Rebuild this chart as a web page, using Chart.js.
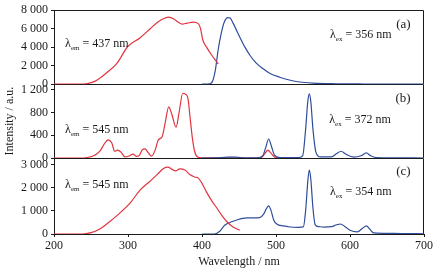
<!DOCTYPE html>
<html>
<head>
<meta charset="utf-8">
<script src="https://cdn.jsdelivr.net/npm/chart.js@4.4.1/dist/chart.umd.min.js"></script>
<style>
    body { margin: 0; background: #fff; }
    #spectra { display: block; }
</style>
</head>
<body>
<canvas id="spectra" width="447" height="273"></canvas>
<script>
/* emission / excitation spectra, three panels */

// panel (a) - excitation (lambda em = 437 nm)
const exAWave = [200, 235, 245, 255, 262, 270, 285, 300, 316, 330, 340, 350, 355, 362, 368, 373, 380, 388, 395, 398, 401, 407, 413, 418, 422];
const exAInt  = [0, 0, 60, 300, 650, 1150, 2250, 4100, 5000, 6000, 6700, 7150, 7250, 7050, 6700, 6500, 6600, 6700, 6550, 6000, 4800, 3900, 3150, 2600, 2200];
// panel (a) - emission (lambda ex = 356 nm)
const emAWave = [400, 408, 413, 418, 422, 426, 430, 435, 438, 442, 451, 458, 465, 473, 482, 492, 505, 518, 532, 550, 580, 620, 700];
const emAInt  = [0, 0, 150, 1500, 3800, 5500, 6700, 7200, 7150, 6600, 5100, 4000, 3100, 2300, 1700, 1150, 750, 450, 230, 110, 40, 15, 0];

// panel (b) - excitation (lambda em = 545 nm)
const exBWave = [200, 235, 245, 255, 262, 268, 273, 278, 282, 286, 290, 296, 302, 307, 311, 315, 319, 323, 327, 332, 337, 341, 346, 350, 355, 359, 365, 369, 374, 378, 381, 384, 387, 390, 394, 400, 420, 460, 480, 485, 489, 493, 498, 505, 525];
const exBInt  = [0, 0, 10, 50, 120, 250, 320, 270, 120, 140, 110, 20, 40, 70, 30, 40, 140, 160, 100, 35, 150, 320, 370, 600, 900, 780, 545, 800, 1140, 1120, 1050, 700, 350, 120, 20, 5, 5, 0, 10, 80, 140, 90, 20, 5, 0];
// panel (b) - emission (lambda ex = 372 nm)
const emBWave = [400, 420, 435, 445, 460, 475, 482, 486, 490, 494, 498, 505, 530, 536, 540, 543, 545, 547, 550, 554, 560, 575, 582, 588, 594, 605, 615, 622, 628, 635, 660, 700];
const emBInt  = [0, 5, 15, 15, 5, 5, 40, 180, 335, 200, 50, 10, 10, 40, 500, 1000, 1130, 1000, 500, 100, 20, 20, 80, 120, 70, 15, 40, 90, 40, 10, 5, 0];

// panel (c) - excitation (lambda em = 545 nm)
const exCWave = [200, 238, 250, 262, 273, 285, 303, 316, 330, 340, 348, 354, 359, 364, 370, 377, 384, 390, 395, 400, 406, 413, 420, 427, 434, 442, 451];
const exCInt  = [0, 0, 60, 220, 480, 800, 1350, 1900, 2300, 2600, 2850, 2910, 2820, 2740, 2830, 2780, 2570, 2480, 2430, 2200, 1830, 1450, 1130, 800, 520, 300, 170];
// panel (c) - emission (lambda ex = 354 nm)
const emCWave = [400, 417, 424, 431, 440, 447, 455, 461, 470, 478, 483, 487, 490, 493, 497, 501, 510, 519, 530, 537, 540, 543, 545, 547, 550, 553, 558, 565, 575, 582, 587, 593, 600, 610, 617, 622, 627, 632, 645, 670, 700];
const emCInt  = [0, 0, 120, 390, 530, 610, 680, 700, 700, 710, 850, 1100, 1220, 1050, 600, 435, 350, 305, 290, 310, 1000, 2300, 2780, 2400, 1100, 400, 320, 300, 320, 400, 435, 330, 160, 90, 250, 350, 200, 50, 30, 20, 10];

// tick values
const xTicks = [200, 300, 400, 500, 600, 700];
const aTicks = [0, 2000, 4000, 6000, 8000];
const bTicks = [0, 400, 800, 1200];
const cTicks = [0, 1000, 2000, 3000];

// labels: [panel, symbol, sub, rest, wavelength, intensity]
const labelTexts = [
    ["ya", "\u03bb", "em", " = 437 nm", 215, 4320],
    ["ya", "\u03bb", "ex", " = 356 nm", 573, 5300],
    ["yb", "\u03bb", "em", " = 545 nm", 215, 492],
    ["yb", "\u03bb", "ex", " = 372 nm", 572, 668],
    ["yc", "\u03bb", "em", " = 545 nm", 215, 2128],
    ["yc", "\u03bb", "ex", " = 354 nm", 573, 1824]
];
const panelTags = [["ya", "(a)", 6490], ["yb", "(b)", 1054], ["yc", "(c)", 2692]];

const RED = "#e0343f";
const BLUE = "#2f4d9b";
const INK = "#1a1a1a";
const SERIF = "'Liberation Serif', 'DejaVu Serif', serif";

document.addEventListener("DOMContentLoaded", () => {
    initSpectraChart();
});

function toPoints(wave, intensity) {
    return wave.map((w, i) => ({ x: w, y: intensity[i] }));
}

function formatThousands(value) {
    return value.toString().replace(/\B(?=(\d{3})+(?!\d))/g, " ");
}

function makeLine(wave, intensity, color, axis) {
    return {
        data: toPoints(wave, intensity),
        borderColor: color,
        borderWidth: 1.2,
        pointRadius: 0,
        cubicInterpolationMode: "monotone",
        fill: false,
        yAxisID: axis
    };
}

function makeYAxis(tickValues, max, weight, withTitle) {
    return {
        type: "linear",
        position: "left",
        stack: "panels",
        stackWeight: weight,
        min: 0,
        max: max,
        afterFit: (scale) => { scale.width = 54; },
        afterBuildTicks: (scale) => {
            scale.ticks = tickValues.map(v => ({ value: v }));
        },
        ticks: {
            autoSkip: false,
            color: INK,
            padding: 3,
            font: { family: SERIF, size: 12 },
            callback: (value) => formatThousands(value)
        },
        grid: { drawOnChartArea: false, tickLength: 3, color: INK },
        border: { color: INK, width: 1 },
        title: {
            display: withTitle,
            text: "Intensity / a.u.",
            color: INK,
            padding: { top: 3, bottom: 0 },
            font: { family: SERIF, size: 12 }
        }
    };
}

// top + right edge of each panel (bottom edge is the next panel's top / x axis)
const panelFrames = {
    id: "panelFrames",
    beforeDatasetsDraw(chart) {
        const ctx = chart.ctx;
        const area = chart.chartArea;
        ctx.save();
        ctx.strokeStyle = INK;
        ctx.lineWidth = 1;
        ["ya", "yb", "yc"].forEach(id => {
            const s = chart.scales[id];
            const top = Math.round(s.top) + 0.5;
            const bottom = Math.round(s.bottom);
            const right = Math.round(area.right) - 0.5;
            ctx.beginPath();
            ctx.moveTo(area.left, top);
            ctx.lineTo(right, top);
            ctx.lineTo(right, bottom);
            ctx.stroke();
        });
        ctx.restore();
    }
};

// lambda labels and panel tags
const panelLabels = {
    id: "panelLabels",
    afterDraw(chart) {
        const ctx = chart.ctx;
        const x = chart.scales.x;
        ctx.save();
        ctx.fillStyle = INK;
        ctx.textBaseline = "middle";
        labelTexts.forEach(([axis, sym, sub, rest, wl, val]) => {
            let px = x.getPixelForValue(wl);
            const py = chart.scales[axis].getPixelForValue(val);
            ctx.textAlign = "left";
            ctx.font = `12px ${SERIF}`;
            ctx.fillText(sym, px, py);
            px += ctx.measureText(sym).width;
            ctx.font = `7px ${SERIF}`;
            ctx.fillText(sub, px, py + 4);
            px += ctx.measureText(sub).width;
            ctx.font = `12px ${SERIF}`;
            ctx.fillText(rest, px, py);
        });
        panelTags.forEach(([axis, tag, val]) => {
            ctx.textAlign = "right";
            ctx.font = `13px ${SERIF}`;
            ctx.fillText(tag, x.getPixelForValue(682), chart.scales[axis].getPixelForValue(val));
        });
        ctx.restore();
    }
};

function initSpectraChart() {
    const ctx = document.getElementById("spectra").getContext("2d");

    const datasets = [
        makeLine(exAWave, exAInt, RED, "ya"),
        makeLine(emAWave, emAInt, BLUE, "ya"),
        makeLine(emBWave, emBInt, BLUE, "yb"),
        makeLine(exBWave, exBInt, RED, "yb"),
        makeLine(exCWave, exCInt, RED, "yc"),
        makeLine(emCWave, emCInt, BLUE, "yc")
    ];

    new Chart(ctx, {
        type: "line",
        data: { datasets: datasets },
        options: {
            responsive: false,
            animation: false,
            layout: { padding: { top: 10, right: 23, left: 0, bottom: 0 } },
            plugins: {
                legend: { display: false },
                tooltip: { enabled: false }
            },
            scales: {
                x: {
                    type: "linear",
                    min: 200,
                    max: 700,
                    afterFit: (scale) => { scale.height = 39; },
                    afterBuildTicks: (scale) => {
                        scale.ticks = xTicks.map(v => ({ value: v }));
                    },
                    ticks: {
                        color: INK,
                        padding: 2,
                        maxRotation: 0,
                        autoSkip: false,
                        font: { family: SERIF, size: 12 }
                    },
                    grid: { drawOnChartArea: false, tickLength: 3, color: INK },
                    border: { color: INK, width: 1 },
                    title: {
                        display: true,
                        text: "Wavelength / nm",
                        color: INK,
                        padding: { top: 0, bottom: 4 },
                        font: { family: SERIF, size: 12 }
                    }
                },
                yc: makeYAxis(cTicks, 3300, 76, false),
                yb: makeYAxis(bTicks, 1300, 74, true),
                ya: makeYAxis(aTicks, 8000, 74, false)
            }
        },
        plugins: [panelFrames, panelLabels]
    });
}
</script>
</body>
</html>
